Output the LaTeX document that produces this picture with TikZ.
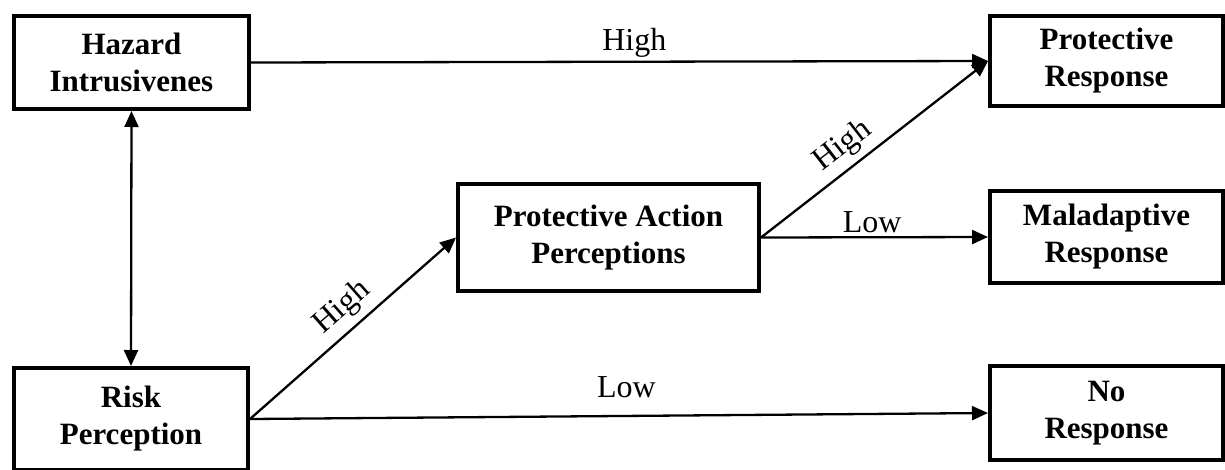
\documentclass[tikz,border=0pt]{standalone}
\usepackage{fontspec}
\setmainfont{Liberation Serif}
\usetikzlibrary{arrows.meta}
\begin{document}
\begin{tikzpicture}[x=1pt,y=-1pt,
  box/.style={draw, line width=4pt, rectangle, inner sep=0pt, align=center,
    font=\fontsize{31}{37}\selectfont\bfseries},
  link/.style={line width=2.3pt, -{Triangle[length=16pt,width=14pt]}},
  both/.style={line width=2.3pt, {Triangle[length=16pt,width=14pt]}-{Triangle[length=16pt,width=14pt]}},
  lbl/.style={font=\fontsize{32}{36}\selectfont, inner sep=3pt}]
\useasboundingbox (0,0) rectangle (1225,469);
\clip (0,0) rectangle (1225,469);

% boxes
\node[box, minimum width=235pt, minimum height=93pt]  (hz)  at (131.5,62.5) {Hazard\\Intrusivenes};
\node[box, minimum width=234pt, minimum height=102pt] (rp)  at (131,419)    {Risk\\Perception};
\node[box, minimum width=301pt, minimum height=107pt] (pap) at (608.5,237.5) {Protective Action\\Perceptions};
\node[box, minimum width=233pt, minimum height=90pt]  (pr)  at (1106.5,61)  {Protective\\Response};
\node[box, minimum width=233pt, minimum height=92pt]  (mr)  at (1106.5,237) {Maladaptive\\Response};
\node[box, minimum width=233pt, minimum height=94pt]  (nr)  at (1106.5,413) {No\\Response};

% connectors
\draw[both] (hz.south) -- (rp.north);
\draw[link] (hz.east) -- node[lbl, pos=0.52, above] {High} (pr.west);
\draw[link] (rp.east) -- node[lbl, pos=0.52, sloped, above=4pt] {High} (pap.west);
\draw[link] (rp.east) -- node[lbl, pos=0.51, above=14pt] {Low} (nr.west);
\draw[link] (pap.east) -- node[lbl, pos=0.42, sloped, above=3pt] {High} (pr.west);
\draw[link] (pap.east) -- node[lbl, pos=0.49, above] {Low} (mr.west);
\end{tikzpicture}
\end{document}
